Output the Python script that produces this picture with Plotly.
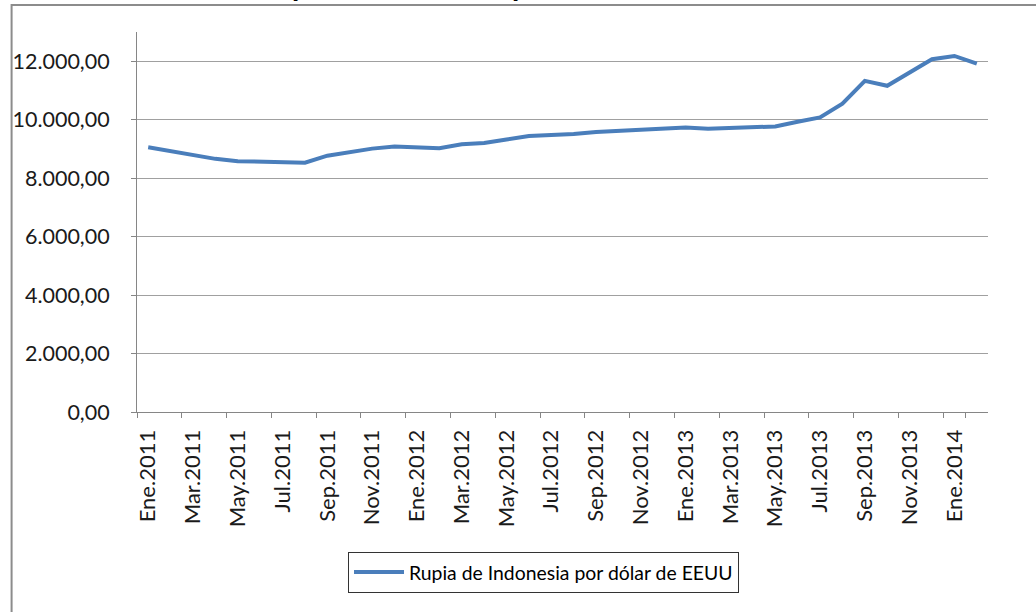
import plotly.graph_objects as go

months = ["Ene", "Feb", "Mar", "Abr", "May", "Jun", "Jul", "Ago", "Sep", "Oct", "Nov", "Dic"]
years = [2011, 2012, 2013, 2014]
n_points = 38
categories = [f"{m}.{y}" for y in years for m in months][:n_points]

values = [
    9060, 8920, 8780, 8660, 8580, 8570, 8540, 8530, 8770, 8890, 9010, 9080,
    9060, 9020, 9160, 9200, 9320, 9440, 9480, 9510, 9580, 9620, 9660, 9700,
    9730, 9690, 9720, 9730, 9770, 9930, 10080, 10550, 11330, 11160, 11600, 12070,
    12180, 11920,
]
series_name = "Rupia de Indonesia por dólar de EEUU"
title_text = "Rupia de Indonesia por dólar de EEUU"
y_ticks = [0, 2000, 4000, 6000, 8000, 10000, 12000]
x_ticks = categories[::2]

W, H = 1036, 612
L, R, T, B = 133, 48, 32, 200
pw, ph = W - L - R, H - T - B

def px(x):
    return (x - L) / pw

def py(y):
    return (H - B - y) / ph

font_family = "Lato, 'Open Sans', sans-serif"

fig = go.Figure()
fig.add_trace(go.Scatter(
    x=categories, y=values, mode="lines", name=series_name,
    line=dict(color="#4A7EBB", width=4),
))

fig.update_layout(
    width=W, height=H,
    margin=dict(l=L, r=R, t=T, b=B, pad=0),
    paper_bgcolor="white", plot_bgcolor="white",
    separators=",.",
    font=dict(family=font_family, size=21, color="#1a1a1a"),
    showlegend=True,
    legend=dict(
        orientation="h", x=px(345), xanchor="left", y=py(552), yanchor="top",
        bordercolor="#333333", borderwidth=1, bgcolor="white",
        font=dict(size=19.4, color="#000000"), itemwidth=50,
    ),
    xaxis=dict(
        type="category", tickmode="array", tickvals=x_ticks,
        tickson="boundaries", ticks="outside", ticklen=5, tickcolor="#868686",
        tickangle=-90, showgrid=False, showline=True, linecolor="#868686",
        linewidth=1, ticklabelstandoff=8,
        tickfont=dict(size=22),
        range=[-0.5, n_points - 0.5],
    ),
    yaxis=dict(
        range=[0, 13000], tickmode="array", tickvals=y_ticks,
        tickformat=",.2f", ticks="outside", ticklen=5, tickcolor="#868686",
        showgrid=True, gridcolor="#A0A0A0", gridwidth=1,
        showline=True, linecolor="#868686", linewidth=1,
        zeroline=False, ticklabelstandoff=17,
        tickfont=dict(size=21.5),
    ),
)

# outer chart-area border (top and left visible; rest outside the frame)
fig.add_shape(type="rect", xref="paper", yref="paper",
              x0=px(7), x1=px(W + 10), y0=py(H + 10), y1=py(5),
              line=dict(color="#8C8C8C", width=2), fillcolor="rgba(0,0,0,0)", layer="below")

# chart title, mostly cut off above the frame (as in the reference)
fig.add_annotation(text=f"<b>{title_text}</b>", xref="paper", yref="paper",
                   x=px(503), y=py(4), xanchor="center", yanchor="bottom",
                   showarrow=False, font=dict(size=29.5, color="#000000"))

fig.write_html("out.html", config={"displayModeBar": False},
               post_script="document.body.style.margin='0';")
